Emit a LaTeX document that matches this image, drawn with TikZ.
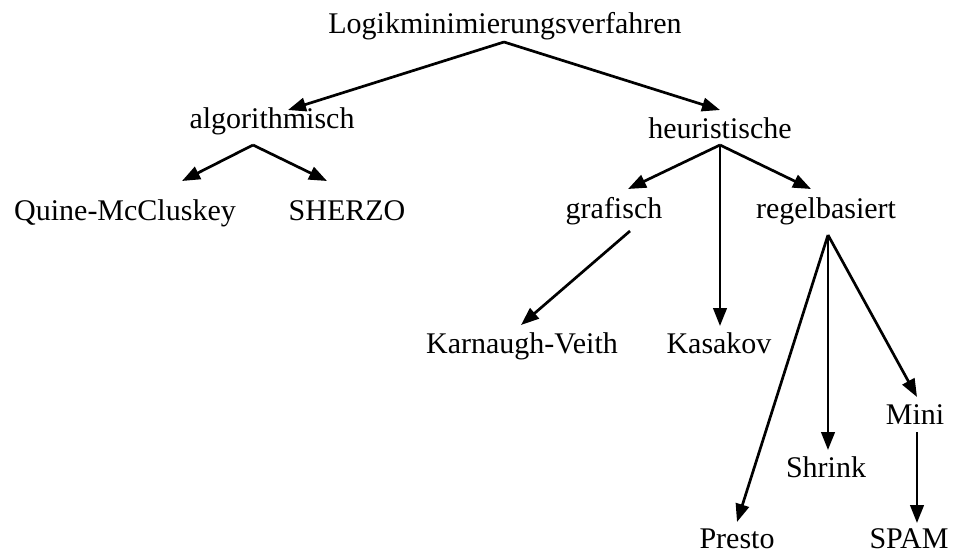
\documentclass[tikz,border=0pt]{standalone}
\usepackage{fontspec}
\setmainfont{Liberation Serif}
\usetikzlibrary{arrows.meta}
\begin{document}
\begin{tikzpicture}[x=1pt,y=-1pt,
  label/.style={anchor=base,inner sep=0pt,font=\fontsize{30}{34}\selectfont},
  link/.style={line width=2.7pt,-{Triangle[length=18pt,width=13.5pt]}}]
\useasboundingbox (0,0) rectangle (963,558);

% tree labels
\node[label] (root)  at (505,33)  {Logikminimierungsverfahren};
\node[label] (alg)   at (272,128) {algorithmisch};
\node[label] (heu)   at (720,138) {heuristische};
\node[label] (qmc)   at (125,220) {Quine-McCluskey};
\node[label] (sherzo) at (347,220) {SHERZO};
\node[label] (graf)  at (614,218) {grafisch};
\node[label] (regel) at (826,218) {regelbasiert};
\node[label] (kv)    at (522,353) {Karnaugh-Veith};
\node[label] (kas)   at (719,353) {Kasakov};
\node[label] (mini)  at (915,424) {Mini};
\node[label] (shrink) at (826,477) {Shrink};
\node[label] (presto) at (737,548) {Presto};
\node[label] (spam)  at (909,548) {SPAM};

% ports where the connectors leave and enter
\coordinate (root-out)   at (504,42);
\coordinate (alg-in)     at (288,110);
\coordinate (alg-out)    at (253,145);
\coordinate (heu-in)     at (720,110);
\coordinate (heu-out)    at (720,145);
\coordinate (qmc-in)     at (182,181);
\coordinate (sherzo-in)  at (327,181);
\coordinate (graf-in)    at (628,189);
\coordinate (graf-out)   at (630,231);
\coordinate (regel-in)   at (811,189);
\coordinate (regel-out)  at (828,235);
\coordinate (kv-in)      at (521,325);
\coordinate (kas-in)     at (720,326);
\coordinate (presto-in)  at (737,522);
\coordinate (shrink-in)  at (828,450);
\coordinate (mini-in)    at (917,397);
\coordinate (mini-out)   at (917,432);
\coordinate (spam-in)    at (917,523);

% connectors
\draw[link] (root-out) -- (alg-in);
\draw[link] (root-out) -- (heu-in);
\draw[link] (alg-out) -- (qmc-in);
\draw[link] (alg-out) -- (sherzo-in);
\draw[link] (heu-out) -- (graf-in);
\draw[link] (heu-out) -- (regel-in);
\draw[link] (heu-out) -- (kas-in);
\draw[link] (graf-out) -- (kv-in);
\draw[link] (regel-out) -- (presto-in);
\draw[link] (regel-out) -- (shrink-in);
\draw[link] (regel-out) -- (mini-in);
\draw[link] (mini-out) -- (spam-in);
\end{tikzpicture}
\end{document}
